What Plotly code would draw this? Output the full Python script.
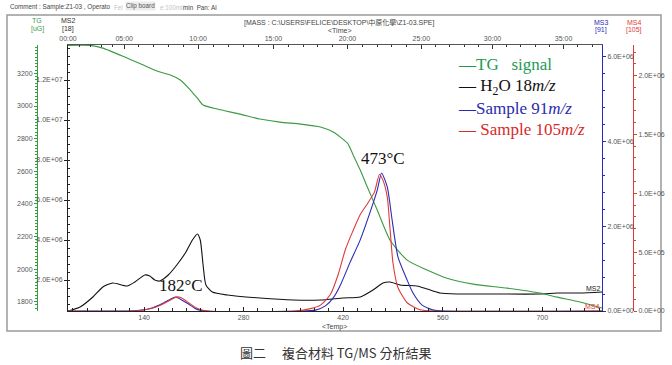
import plotly.graph_objects as go
import numpy as np

# ---------------- data ----------------
temp_tg = [33, 64, 82, 116, 139, 158, 177, 191, 205, 215, 223, 243, 275, 303, 331, 360, 388,
           406, 426, 434, 444, 454, 468, 486, 510, 538, 566, 603, 651, 697, 721, 753, 784]
tg_ug = [3372, 3372, 3355, 3294, 3251, 3214, 3190, 3159, 3098, 3048, 3006, 2981, 2950, 2920,
         2901, 2889, 2871, 2840, 2772, 2700, 2607, 2503, 2361, 2177, 2055, 1994, 1944, 1908,
         1883, 1853, 1828, 1798, 1761]

temp_h2o = [33, 50, 68, 82, 96, 116, 127, 141, 148, 155, 162, 174, 186, 198, 208, 215, 219,
            223, 227, 236, 257, 303, 350, 388, 420, 444, 462, 476, 486, 500, 524, 538, 556,
            580, 627, 697, 721, 753, 784]
h2o_18 = [0.45e6, 0.65e6, 1.15e6, 1.65e6, 1.85e6, 1.70e6, 1.90e6, 2.25e6, 2.20e6, 2.00e6,
          1.95e6, 2.25e6, 2.75e6, 3.35e6, 4.0e6, 4.3e6, 4.0e6, 2.75e6, 1.75e6, 1.4e6, 1.25e6,
          1.1e6, 1.0e6, 1.0e6, 1.1e6, 1.15e6, 1.5e6, 1.85e6, 1.9e6, 1.75e6, 1.7e6, 1.55e6,
          1.35e6, 1.3e6, 1.3e6, 1.3e6, 1.35e6, 1.35e6, 1.4e6]

temp_91 = [33, 120, 137, 151, 165, 177, 184, 191, 202, 213, 226, 359, 381, 395, 406, 416,
           430, 444, 458, 468, 474, 482, 489, 497, 510, 518, 531, 547, 564, 784]
ms_91 = [0, 0, 0.02e6, 0.07e6, 0.17e6, 0.28e6, 0.33e6, 0.28e6, 0.17e6, 0.05e6, 0, 0, 0.02e6,
         0.12e6, 0.31e6, 0.61e6, 1.16e6, 1.68e6, 2.34e6, 2.86e6, 3.26e6, 2.93e6, 2.13e6,
         1.28e6, 0.73e6, 0.43e6, 0.14e6, 0.02e6, 0, 0]

temp_105 = [33, 125, 141, 155, 170, 179, 186, 193, 205, 216, 230, 352, 374, 388, 402, 413,
            423, 433, 444, 455, 464, 471, 476, 482, 486, 490, 497, 510, 528, 549, 784]
ms_105 = [0, 0, 0.01e6, 0.03e6, 0.07e6, 0.10e6, 0.12e6, 0.11e6, 0.06e6, 0.02e6, 0, 0, 0.02e6,
          0.05e6, 0.14e6, 0.31e6, 0.52e6, 0.67e6, 0.82e6, 0.92e6, 1.01e6, 1.16e6, 1.11e6,
          0.97e6, 0.69e6, 0.41e6, 0.20e6, 0.07e6, 0.01e6, 0, 0]

temp_ticks = [140, 280, 420, 560, 700]
time_labels = ["00:00", "05:00", "10:00", "15:00", "20:00", "25:00", "30:00", "35:00"]
time_at_temp = [33, 112, 216, 322, 426, 530, 630, 730]
tg_ticks = [1800, 2000, 2200, 2400, 2600, 2800, 3000, 3200]
ms2_ticks = [2e6, 4e6, 6e6, 8e6, 10e6, 12e6]
ms3_ticks = [0, 2e6, 4e6, 6e6]
ms4_ticks = [0, 5e5, 1e6, 1.5e6, 2e6]

# ---------------- styling ----------------
W, H = 672, 365
ML, MR, MT, MB = 7, 11, 15, 34
PW, PH = W - ML - MR, H - MT - MB


def px(x):
    return (x - ML) / PW


def py(y):
    return (H - MB - y) / PH


GREEN = "#3a9a40"
BLACK = "#111111"
BLUE = "#2b2bb8"
RED = "#e03a3a"
TICKF = dict(family="Liberation Sans, Arial", size=7, color="#555555")


def efmt(v):
    return f"{v:.1E}"


# minor ticks on time axis (1 minute)
time_minor = []
for a, b in zip(time_at_temp[:-1], time_at_temp[1:]):
    for k in range(1, 5):
        time_minor.append(a + (b - a) * k / 5)
for k in range(1, 3):
    time_minor.append(time_at_temp[-1] + 20 * k)

fig = go.Figure()
fig.add_trace(go.Scatter(x=temp_tg, y=tg_ug, yaxis="y2", mode="lines",
                         line=dict(color=GREEN, width=1.1, shape="spline", smoothing=0.6)))
fig.add_trace(go.Scatter(x=temp_h2o, y=h2o_18, yaxis="y", mode="lines",
                         line=dict(color=BLACK, width=1.1, shape="spline", smoothing=0.6)))
fig.add_trace(go.Scatter(x=temp_91, y=ms_91, yaxis="y3", mode="lines",
                         line=dict(color=BLUE, width=1.1, shape="spline", smoothing=0.6)))
fig.add_trace(go.Scatter(x=temp_105, y=ms_105, yaxis="y4", mode="lines",
                         line=dict(color=RED, width=1.1, shape="spline", smoothing=0.6)))
# invisible trace to activate top axis
fig.add_trace(go.Scatter(x=[33, 784], y=[1e6, 1e6], xaxis="x2", yaxis="y", mode="lines",
                         line=dict(width=0), opacity=0, showlegend=False, hoverinfo="skip"))

xdom = [px(68), px(602)]
ydom = [py(311), py(45)]

fig.update_layout(
    width=W, height=H,
    margin=dict(l=ML, r=MR, t=MT, b=MB, autoexpand=False),
    paper_bgcolor="white", plot_bgcolor="white",
    showlegend=False,
    xaxis=dict(domain=xdom, range=[33, 784], anchor="y", showline=True, linecolor="#222",
               linewidth=1, tickvals=temp_ticks, ticktext=[str(t) for t in temp_ticks],
               ticks="inside", ticklen=4, tickcolor="#222", tickfont=TICKF, showgrid=False,
               zeroline=False, automargin=False,
               minor=dict(dtick=20, tick0=0, ticks="inside", ticklen=3, tickcolor="#222")),
    xaxis2=dict(overlaying="x", side="top", anchor="y", range=[33, 784], showline=True,
                linecolor="#555", linewidth=1, tickvals=time_at_temp, ticktext=time_labels,
                ticks="inside", ticklen=4, tickcolor="#333", tickfont=TICKF, showgrid=False,
                zeroline=False, automargin=False,
                minor=dict(tickvals=time_minor, ticks="inside", ticklen=2, tickcolor="#333")),
    yaxis=dict(domain=ydom, range=[0.45e6, 13.75e6], anchor="x", side="left", showline=True,
               linecolor="#222", linewidth=1, tickvals=ms2_ticks,
               ticktext=[efmt(v) for v in ms2_ticks], ticks="outside", ticklen=3,
               tickcolor="#222", tickfont=TICKF, showgrid=False, zeroline=False,
               automargin=False,
               minor=dict(dtick=4e5, tick0=0, ticks="inside", ticklen=2, tickcolor="#222")),
    yaxis2=dict(overlaying="y", anchor="free", position=px(37), side="left",
                range=[1743, 3374], showline=True, linecolor=GREEN, linewidth=1,
                tickvals=tg_ticks, ticktext=[str(v) for v in tg_ticks], ticks="outside",
                ticklen=3, tickcolor=GREEN, tickfont=TICKF, showgrid=False, zeroline=False,
                automargin=False,
                minor=dict(dtick=20, tick0=0, ticks="outside", ticklen=2, tickcolor=GREEN)),
    yaxis3=dict(overlaying="y", anchor="x", side="right", range=[0, 6.283e6], showline=True,
                linecolor=BLUE, linewidth=1, tickvals=ms3_ticks,
                ticktext=[efmt(v) for v in ms3_ticks], ticks="outside", ticklen=3,
                tickcolor=BLUE, tickfont=TICKF, showgrid=False, zeroline=False,
                automargin=False,
                minor=dict(dtick=4e5, tick0=0, ticks="outside", ticklen=2, tickcolor=BLUE)),
    yaxis4=dict(overlaying="y", anchor="free", position=px(633), side="right",
                range=[0, 2.26e6], showline=True, linecolor=RED, linewidth=1,
                tickvals=ms4_ticks, ticktext=[efmt(v) for v in ms4_ticks], ticks="outside",
                ticklen=3, tickcolor=RED, tickfont=TICKF, showgrid=False, zeroline=False,
                automargin=False,
                minor=dict(dtick=1e5, tick0=0, ticks="outside", ticklen=2, tickcolor=RED)),
)

# outer frame
fig.add_shape(type="rect", xref="paper", yref="paper", x0=0, x1=1, y0=0, y1=1,
              line=dict(color="#9a9a9a", width=1.5), layer="below")


def ann(x, y, text, size=7, color="#555555", family="Liberation Sans, Arial",
        xanchor="center", yanchor="middle", **kw):
    fig.add_annotation(x=px(x), y=py(y), xref="paper", yref="paper", text=text,
                       showarrow=False, xanchor=xanchor, yanchor=yanchor,
                       font=dict(size=size, color=color, family=family), **kw)


# header texts
ann(8, 7, "Comment : Sample:Z1-03 , Operato", size=6.3, xanchor="left", color="#444444")
ann(112, 7, "Fel", size=6.3, xanchor="left", color="#c4c4c4")
ann(140, 6, "Clip board", size=6.3, color="#555555", bgcolor="#ececec", borderpad=0)
ann(158, 7, "e:100ml/", size=6.3, xanchor="left", color="#c4c4c4")
ann(181, 7, "min\u00a0\u00a0Pan: Al", size=6.3, xanchor="left", color="#444444")
ann(37, 21, "TG", color=GREEN)
ann(37, 29, "[uG]", color=GREEN)
ann(68, 21, "MS2", color="#333333")
ann(68, 29, "[18]", color="#333333")
ann(339, 22, "[MASS : C:\\USERS\\FELICE\\DESKTOP\\中原化學\\Z1-03.SPE]", color="#444444",
    family="Liberation Sans, Noto Sans CJK TC")
ann(339, 30, "&lt;Time&gt;", color="#444444")
ann(601, 22, "MS3", color=BLUE)
ann(601, 30, "[91]", color=BLUE)
ann(634, 22, "MS4", color=RED)
ann(634, 30, "[105]", color=RED)
ann(335, 327, "&lt;Temp&gt;", color="#444444")
ann(593, 288, "MS2", color="#222222")
ann(592, 306, "MS4", color=RED)

# legend (text)
SERIF = "Liberation Serif, Times New Roman"
ann(456, 64, "—TG\u00a0\u00a0\u00a0signal", size=17, color="#1e9a55", family=SERIF, xanchor="left")
ann(456, 87, "— H<sub>2</sub>O 18<i>m/z</i>", size=17, color="#111111", family=SERIF, xanchor="left")
ann(456, 108, "—Sample 91<i>m/z</i>", size=17, color="#2a2ab0", family=SERIF, xanchor="left")
ann(456, 129, "— Sample 105<i>m/z</i>", size=17, color="#d42a2a", family=SERIF, xanchor="left")

# peak labels
ann(181, 285, "182°C", size=17, color="#111111", family=SERIF)
ann(383, 158, "473°C", size=17, color="#111111", family=SERIF)

# caption
ann(336, 352, "圖二\u3000 複合材料 TG/MS 分析結果", size=13, color="#333333",
    family="Noto Sans CJK TC, Noto Sans CJK SC")

fig.write_html("out.html", config={"displayModeBar": False, "staticPlot": True},
               post_script="document.body.style.margin='0';document.body.style.overflow='hidden';")
